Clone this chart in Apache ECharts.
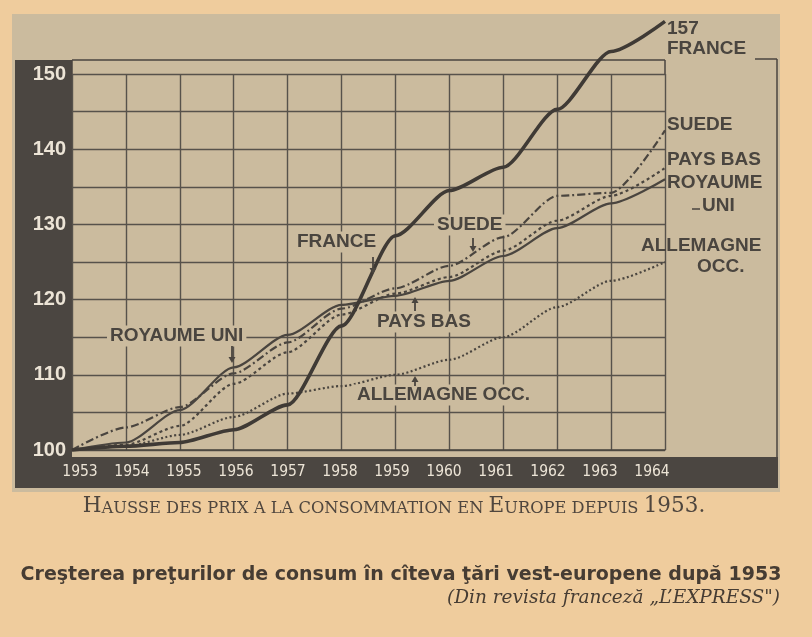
<!DOCTYPE html>
<html>
<head>
<meta charset="utf-8">
<script src="https://cdn.jsdelivr.net/npm/echarts@6/dist/echarts.min.js"></script>
<style>
html,body{margin:0;padding:0;background:#efcc9d;}
#c{width:812px;height:637px;}
</style>
</head>
<body>
<div id="c"></div>
<script>
// ---- data ----
const years = ['1953','1954','1955','1956','1957','1958','1959','1960','1961','1962','1963','1964'];
const yTickLabels = [100,110,120,130,140,150];
const france     = [100,100.5,101,102.7,106,116.5,128.5,134.5,137.6,145.3,153,157];
const royaumeUni = [100,101,105.3,111,115.3,119.3,120.5,122.5,125.8,129.5,132.8,136];
const paysBas    = [100,100.7,103.2,108.8,113,118,120.8,123,126.5,130.5,133.8,137.5];
const suede      = [100,103,105.7,110.2,114.3,118.8,121.5,124.5,128.3,133.8,134.2,142.5];
const allemagne  = [100,100.5,102,104.4,107.5,108.5,110,112,115,119,122.5,125];

const ink = '#4a453f';
const chartBg = '#cbbb9e';
const band = '#4b4641';
const annFont = 'bold 19px "Liberation Sans", Arial, sans-serif';

function txt(text, x, y, opts) {
  return {
    type: 'text', z: 20,
    style: Object.assign({
      text: text, x: x, y: y, fill: ink, font: annFont,
      textAlign: 'left', textVerticalAlign: 'middle'
    }, opts || {})
  };
}
function bgTxt(text, x, y) {
  return txt(text, x, y, {backgroundColor: chartBg, padding: [1, 3, 1, 3]});
}
function arrow(x1, y1, x2, y2) {
  const dir = y2 > y1 ? 1 : -1;
  return {
    type: 'group', z: 20,
    children: [
      {type: 'line', z: 20, shape: {x1: x1, y1: y1, x2: x2, y2: y2 - dir * 3}, style: {stroke: ink, lineWidth: 1.8}},
      {type: 'polygon', z: 20, shape: {points: [[x2 - 3.5, y2 - dir * 6], [x2 + 3.5, y2 - dir * 6], [x2, y2]]}, style: {fill: ink}}
    ]
  };
}
function seg(x1, y1, x2, y2, w) {
  return {type: 'line', z: 1, shape: {x1: x1, y1: y1, x2: x2, y2: y2}, style: {stroke: ink, lineWidth: w || 1.5}};
}

const chart = echarts.init(document.getElementById('c'));
const base = {type: 'line', xAxisIndex: 0, yAxisIndex: 0, showSymbol: false, symbol: 'none',
  smooth: 0.25, smoothMonotone: 'x', clip: false, z: 5};

chart.setOption({
  backgroundColor: '#efcc9d',
  animation: false,
  grid: [
    {left: 72, right: 147, top: 74, bottom: 187},
    {left: 80, right: 160, top: 74, bottom: 187}
  ],
  xAxis: [
    {type: 'category', gridIndex: 0, data: years, boundaryGap: false,
      axisLabel: {show: false}, axisTick: {show: false},
      axisLine: {show: true, lineStyle: {color: ink, width: 1.5}},
      splitLine: {show: true, lineStyle: {color: '#57524b', width: 1.4}}},
    {type: 'category', gridIndex: 1, data: years, boundaryGap: false,
      axisLine: {show: false}, axisTick: {show: false}, splitLine: {show: false},
      axisLabel: {color: '#ece4d6', fontSize: 15.5, margin: 14,
        fontFamily: '"DejaVu Sans Condensed", "Liberation Sans Narrow", "DejaVu Sans", sans-serif'}}
  ],
  yAxis: [
    {type: 'value', gridIndex: 0, min: 100, max: 150, interval: 5,
      axisLine: {show: false}, axisTick: {show: false},
      splitLine: {show: true, lineStyle: {color: '#57524b', width: 1.4}},
      axisLabel: {color: '#ece4d6', fontSize: 20, fontWeight: 'bold', margin: 6,
        fontFamily: '"Liberation Sans", Arial, sans-serif', padding: [0, 0, 5, 0],
        formatter: function (v) { return yTickLabels.indexOf(v) >= 0 ? String(v) : ''; }}},
    {type: 'value', gridIndex: 1, min: 100, max: 150, show: false}
  ],
  series: [
    Object.assign({}, base, {name: 'ALLEMAGNE OCC.', data: allemagne,
      lineStyle: {color: ink, width: 2.2, type: [2, 2.5]}}),
    Object.assign({}, base, {name: 'PAYS BAS', data: paysBas,
      lineStyle: {color: ink, width: 2.2, type: [3, 3]}}),
    Object.assign({}, base, {name: 'SUEDE', data: suede,
      lineStyle: {color: ink, width: 2.2, type: [8, 3, 2, 3]}}),
    Object.assign({}, base, {name: 'ROYAUME UNI', data: royaumeUni,
      lineStyle: {color: ink, width: 2.2}}),
    Object.assign({}, base, {name: 'FRANCE', data: france,
      lineStyle: {color: '#3f3a35', width: 3.6}})
  ],
  graphic: [
    // chart paper and dark bands
    {type: 'rect', z: -2, shape: {x: 12, y: 14, width: 768, height: 478}, style: {fill: chartBg}},
    {type: 'rect', z: -1, shape: {x: 15, y: 60, width: 57, height: 428}, style: {fill: band}},
    {type: 'rect', z: -1, shape: {x: 15, y: 457, width: 763, height: 31}, style: {fill: band}},
    // frame
    seg(72, 60, 665, 60), seg(72, 60, 72, 74), seg(665, 60, 665, 74),
    seg(755, 59, 777, 59), seg(777, 59, 777, 457),
    // right-hand labels
    txt('157', 667, 29), txt('FRANCE', 667, 49),
    txt('SUEDE', 667, 125), txt('PAYS BAS', 667, 160),
    txt('ROYAUME', 667, 183), txt('UNI', 702, 206), seg(692, 209, 700, 209, 1.5),
    txt('ALLEMAGNE', 641, 246), txt('OCC.', 697, 267),
    // labels inside plot
    bgTxt('FRANCE', 294, 242), arrow(373, 257, 373, 274),
    bgTxt('SUEDE', 434, 225), arrow(473, 238, 473, 252),
    bgTxt('PAYS BAS', 374, 322), arrow(415, 311, 415, 297),
    bgTxt('ROYAUME UNI', 107, 336), arrow(232, 346, 232, 363),
    bgTxt('ALLEMAGNE OCC.', 354, 395), arrow(415, 386, 415, 376),
    // captions
    {type: 'text', z: 20, style: {
      x: 394, y: 506, textAlign: 'center', textVerticalAlign: 'middle',
      text: '{b|H}{s|AUSSE DES PRIX A LA CONSOMMATION EN }{b|E}{s|UROPE DEPUIS }{b|1953.}',
      rich: {
        b: {font: '21.5px "DejaVu Serif", serif', fill: '#4f463e', verticalAlign: 'bottom'},
        s: {font: '16.3px "DejaVu Serif", serif', fill: '#4f463e', verticalAlign: 'bottom'}
      }}},
    {type: 'text', z: 20, style: {
      x: 401, y: 575, textAlign: 'center', textVerticalAlign: 'middle',
      text: 'Creşterea preţurilor de consum în cîteva ţări vest-europene după 1953',
      font: 'bold 19px "DejaVu Sans", sans-serif', fill: '#463c33'}},
    {type: 'text', z: 20, style: {
      x: 780, y: 598, textAlign: 'right', textVerticalAlign: 'middle',
      text: '(Din revista franceză „L\u2019EXPRESS")',
      font: 'italic 18.5px "DejaVu Serif", serif', fill: '#463c33'}}
  ]
});
</script>
</body>
</html>
